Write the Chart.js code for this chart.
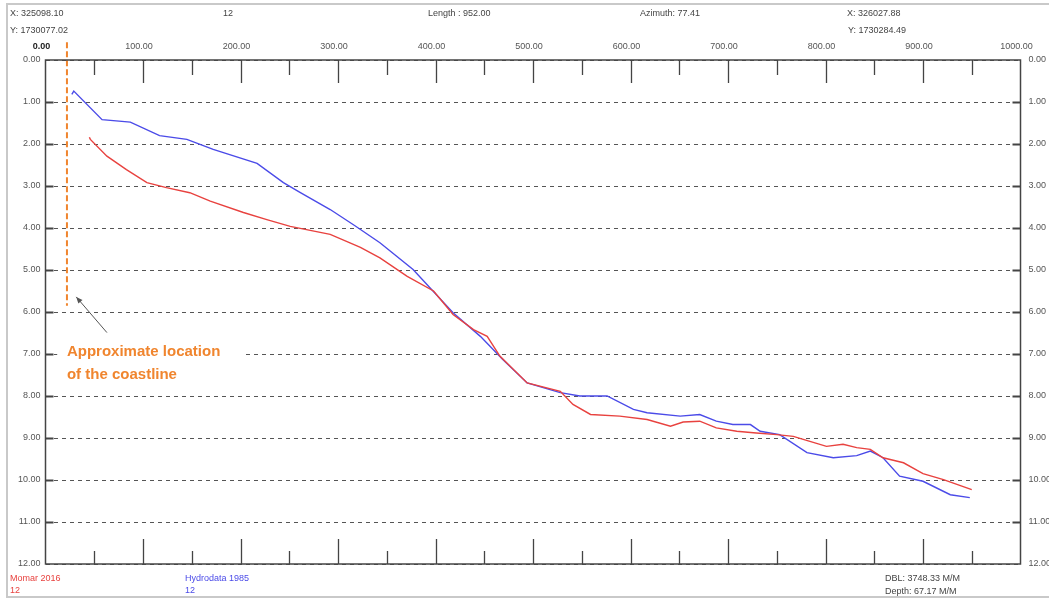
<!DOCTYPE html>
<html>
<head>
<meta charset="utf-8">
<script src="https://cdn.jsdelivr.net/npm/chart.js@4"></script>
<style>
  html, body { margin: 0; padding: 0; background: #fff; }
  #wrap { width: 1049px; height: 599px; position: relative; }
</style>
</head>
<body>
<div id="wrap"><canvas id="profile"></canvas></div>
<script>
//distance along the profile (m) and depth (m)
const momarDist = [45, 46, 63, 83, 104, 124, 148, 169, 203, 227, 251, 292, 323, 343, 371, 398, 418, 439, 453, 466, 494, 528, 541, 559, 589, 617, 641, 654, 671, 688, 709, 729, 750, 767, 784, 801, 818, 832, 846, 859, 880, 900, 921, 950];
const momarDepth = [1.84, 1.89, 2.29, 2.61, 2.92, 3.04, 3.16, 3.36, 3.63, 3.80, 3.96, 4.15, 4.46, 4.71, 5.15, 5.50, 6.06, 6.42, 6.58, 7.05, 7.69, 7.89, 8.20, 8.44, 8.48, 8.56, 8.72, 8.62, 8.60, 8.76, 8.84, 8.88, 8.92, 8.96, 9.08, 9.20, 9.15, 9.23, 9.27, 9.47, 9.59, 9.85, 9.99, 10.23];

const hydroDist = [27, 29, 58, 87, 117, 145, 172, 217, 244, 261, 292, 317, 343, 377, 418, 446, 469, 494, 528, 548, 576, 603, 617, 651, 671, 688, 705, 723, 733, 753, 781, 808, 832, 846, 859, 876, 900, 928, 948];
const hydroDepth = [0.82, 0.74, 1.42, 1.48, 1.80, 1.89, 2.13, 2.46, 2.92, 3.15, 3.56, 3.94, 4.35, 4.99, 6.02, 6.58, 7.13, 7.69, 7.92, 8.00, 8.00, 8.32, 8.40, 8.48, 8.44, 8.60, 8.68, 8.68, 8.84, 8.92, 9.35, 9.47, 9.42, 9.31, 9.47, 9.91, 10.03, 10.35, 10.42];

//coastline marker
const coastDist = [22, 22];
const coastDepth = [-0.42, 5.85];

const xTicks = [0, 100, 200, 300, 400, 500, 600, 700, 800, 900, 1000];
const depthTicks = [0, 1, 2, 3, 4, 5, 6, 7, 8, 9, 10, 11, 12];

const headerLeft = ["X: 325098.10", "Y: 1730077.02"];
const headerRight = ["X: 326027.88", "Y: 1730284.49"];
const lineNo = "12";
const lengthText = "Length : 952.00";
const azimuthText = "Azimuth: 77.41";
const footerRight = ["DBL: 3748.33 M/M", "Depth: 67.17 M/M"];

const RED = "#e8423f";
const BLUE = "#4b4be8";
const ORANGE = "#f0852e";
const FONT = "'Liberation Sans', Arial, sans-serif";

function toPoints(xs, ys) {
  return xs.map((x, i) => ({ x: x, y: ys[i] }));
}

function isOrigin(c) {
  return c.tick !== undefined && c.tick.value === 0;
}

//frame, ticks, header/footer and the coastline note
const decorations = {
  id: "decorations",
  beforeDatasetsDraw(chart) {
    const { ctx } = chart;
    const x = chart.scales.x;
    const y = chart.scales.y;
    ctx.save();
    //white box behind the note text
    ctx.fillStyle = "#fff";
    ctx.fillRect(x.getPixelForValue(12), y.getPixelForValue(6.72), 186, 44);
    ctx.restore();
  },
  afterDraw(chart) {
    const { ctx, chartArea: a } = chart;
    const x = chart.scales.x;
    const y = chart.scales.y;
    ctx.save();

    //outer frame
    ctx.strokeStyle = "#c9c9c9";
    ctx.lineWidth = 2;
    ctx.beginPath();
    ctx.moveTo(1049, 4);
    ctx.lineTo(7, 4);
    ctx.lineTo(7, 597);
    ctx.lineTo(1049, 597);
    ctx.stroke();

    //plot box
    ctx.strokeStyle = "#444";
    ctx.lineWidth = 1.5;
    ctx.strokeRect(a.left, a.top, a.right - a.left, a.bottom - a.top);

    //distance ticks, top and bottom
    ctx.lineWidth = 1.3;
    for (let d = 50; d < 1000; d += 50) {
      const px = Math.round(x.getPixelForValue(d)) + 0.5;
      const long = d % 100 === 0;
      ctx.beginPath();
      ctx.moveTo(px, a.top);
      ctx.lineTo(px, a.top + (long ? 23 : 15));
      ctx.moveTo(px, a.bottom);
      ctx.lineTo(px, a.bottom - (long ? 25 : 13));
      ctx.stroke();
    }

    //depth ticks, left and right
    ctx.lineWidth = 2;
    for (let v = 1; v < 12; v++) {
      const py = Math.round(y.getPixelForValue(v)) + 0.5;
      ctx.beginPath();
      ctx.moveTo(a.left, py);
      ctx.lineTo(a.left + 8, py);
      ctx.moveTo(a.right, py);
      ctx.lineTo(a.right - 8, py);
      ctx.stroke();
    }

    //header
    ctx.fillStyle = "#444";
    ctx.font = "9px " + FONT;
    ctx.textBaseline = "middle";
    ctx.textAlign = "left";
    ctx.fillText(headerLeft[0], 10, 14);
    ctx.fillText(headerLeft[1], 10, 31);
    ctx.fillText(lineNo, 223, 14);
    ctx.fillText(lengthText, 428, 14);
    ctx.fillText(azimuthText, 640, 14);
    ctx.fillText(headerRight[0], 847, 14);
    ctx.fillText(headerRight[1], 848, 31);

    //footer
    ctx.fillStyle = RED;
    ctx.fillText("Momar 2016", 10, 579);
    ctx.fillText("12", 10, 591);
    ctx.fillStyle = BLUE;
    ctx.fillText("Hydrodata 1985", 185, 579);
    ctx.fillText("12", 185, 591);
    ctx.fillStyle = "#444";
    ctx.fillText(footerRight[0], 885, 579);
    ctx.fillText(footerRight[1], 885, 592);

    //coastline note
    ctx.fillStyle = ORANGE;
    ctx.font = "bold 15px " + FONT;
    ctx.fillText("Approximate location", x.getPixelForValue(22), y.getPixelForValue(6.96));
    ctx.fillText("of the coastline", x.getPixelForValue(22), y.getPixelForValue(7.49));

    //arrow to the marker
    const tx = x.getPixelForValue(63), ty = y.getPixelForValue(6.49);
    const hx = x.getPixelForValue(31.5), hy = y.getPixelForValue(5.64);
    const ang = Math.atan2(hy - ty, hx - tx);
    ctx.strokeStyle = "#555";
    ctx.fillStyle = "#555";
    ctx.lineWidth = 1;
    ctx.beginPath();
    ctx.moveTo(tx, ty);
    ctx.lineTo(hx, hy);
    ctx.stroke();
    ctx.beginPath();
    ctx.moveTo(hx, hy);
    ctx.lineTo(hx - 7 * Math.cos(ang - 0.4), hy - 7 * Math.sin(ang - 0.4));
    ctx.lineTo(hx - 7 * Math.cos(ang + 0.4), hy - 7 * Math.sin(ang + 0.4));
    ctx.closePath();
    ctx.fill();

    ctx.restore();
  }
};

const depthAxis = (pos, width, pad) => ({
  type: "linear",
  position: pos,
  reverse: true,
  min: 0,
  max: 12,
  afterBuildTicks: s => { s.ticks = depthTicks.map(v => ({ value: v })); },
  afterFit: s => { s.width = width; },
  grid: { display: pos === "left", drawTicks: false, color: "#555", lineWidth: 1 },
  border: { display: false, dash: [4, 4] },
  ticks: {
    padding: pad,
    color: "#555",
    font: { family: FONT, size: 9 },
    callback: v => v.toFixed(2)
  }
});

function loadChart() {
  const ctx = document.getElementById("profile").getContext("2d");
  new Chart(ctx, {
    type: "line",
    data: {
      datasets: [
        {
          label: "Momar 2016",
          data: toPoints(momarDist, momarDepth),
          borderColor: RED,
          borderWidth: 1.4,
          yAxisID: "y"
        },
        {
          label: "Hydrodata 1985",
          data: toPoints(hydroDist, hydroDepth),
          borderColor: BLUE,
          borderWidth: 1.4,
          yAxisID: "y"
        },
        {
          label: "Coastline",
          data: toPoints(coastDist, coastDepth),
          borderColor: ORANGE,
          borderWidth: 2,
          borderDash: [6, 3],
          clip: false,
          yAxisID: "y"
        }
      ]
    },
    options: {
      responsive: false,
      animation: false,
      layout: { padding: { top: 38, bottom: 35, left: 0, right: 0 } },
      elements: { point: { radius: 0 }, line: { tension: 0 } },
      plugins: { legend: { display: false }, tooltip: { enabled: false } },
      scales: {
        x: {
          type: "linear",
          position: "top",
          min: 0,
          max: 1000,
          afterBuildTicks: s => { s.ticks = xTicks.map(v => ({ value: v })); },
          afterFit: s => { s.height = 22; },
          grid: { display: false, drawTicks: false },
          border: { display: false },
          ticks: {
            padding: 8,
            labelOffset: -4,
            color: c => (isOrigin(c) ? "#222" : "#555"),
            font: c => ({ family: FONT, size: 9, weight: isOrigin(c) ? "bold" : "normal" }),
            callback: v => v.toFixed(2)
          }
        },
        y: depthAxis("left", 45.5, 5),
        y2: depthAxis("right", 28.5, 8)
      }
    },
    plugins: [decorations]
  });
}

window.onload = function() {
  const canvas = document.getElementById("profile");
  canvas.width = 1049;
  canvas.height = 599;
  loadChart();
};
</script>
</body>
</html>
